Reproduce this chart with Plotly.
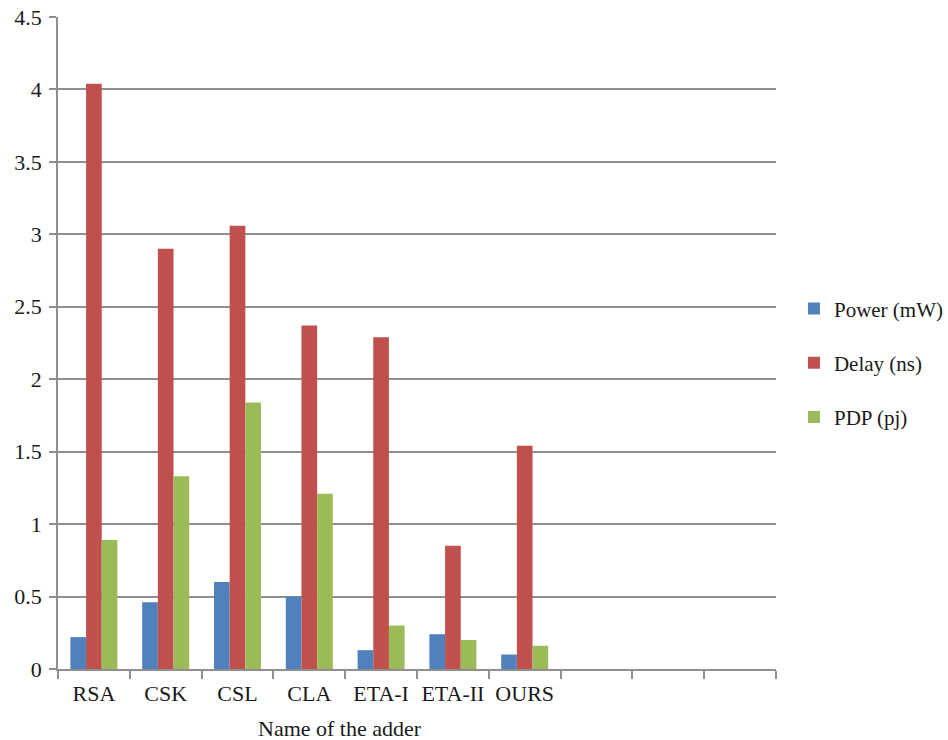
import plotly.graph_objects as go

categories = ["RSA", "CSK", "CSL", "CLA", "ETA-I", "ETA-II", "OURS"]
blank_categories = [" ", "  ", "   "]
power_mw = [0.22, 0.46, 0.60, 0.50, 0.13, 0.24, 0.10]
delay_ns = [4.04, 2.90, 3.06, 2.37, 2.29, 0.85, 1.54]
pdp_pj = [0.89, 1.33, 1.84, 1.21, 0.30, 0.20, 0.16]
series_names = ["Power (mW)", "Delay (ns)", "PDP (pj)"]
y_ticks = [0, 0.5, 1, 1.5, 2, 2.5, 3, 3.5, 4, 4.5]
y_tick_text = ["0", "0.5", "1", "1.5", "2", "2.5", "3", "3.5", "4", "4.5"]

colors = ["#4F81BD", "#C0504D", "#9BBB59"]
FONT = "Liberation Serif, Times New Roman, DejaVu Serif, serif"
GRID = "#8f8f8f"
TXT = "#1a1a1a"

fig = go.Figure()
for i, (name, vals) in enumerate(zip(series_names, [power_mw, delay_ns, pdp_pj])):
    fig.add_trace(go.Bar(
        x=categories, y=vals, name=name,
        marker=dict(color=colors[i], line=dict(width=0)),
        legendgroup=f"g{i}",
    ))

fig.update_layout(
    width=948, height=740,
    paper_bgcolor="white", plot_bgcolor="white",
    barmode="group", bargap=0.345, bargroupgap=0,
    margin=dict(l=58, r=172, t=17, b=71, autoexpand=False),
    font=dict(family=FONT, size=21, color=TXT),
    legend=dict(
        x=1.025, y=0.584, xanchor="left", yanchor="top",
        font=dict(family=FONT, size=21, color=TXT),
        tracegroupgap=24, itemwidth=30,
        bgcolor="rgba(0,0,0,0)",
    ),
    showlegend=True,
)
fig.update_xaxes(
    type="category", automargin=False,
    categoryorder="array", categoryarray=categories + blank_categories,
    range=[-0.5, 9.5], tickangle=0,
    tickson="boundaries", ticks="outside", ticklen=8, tickcolor=GRID, tickwidth=1.5,
    ticklabelstandoff=4,
    showline=True, linecolor=GRID, linewidth=1.5,
    showgrid=False, zeroline=False,
    tickfont=dict(family=FONT, size=22, color=TXT),
)
fig.update_yaxes(
    automargin=False,
    range=[0, 4.5], tickvals=y_ticks, ticktext=y_tick_text,
    ticks="outside", ticklen=7, tickcolor=GRID, tickwidth=1.5,
    ticklabelstandoff=3,
    showline=True, linecolor=GRID, linewidth=1.5,
    showgrid=True, gridcolor=GRID, gridwidth=1.5,
    zeroline=False,
    tickfont=dict(family=FONT, size=22, color=TXT),
)
fig.add_annotation(
    text="Name of the adder", xref="paper", yref="paper",
    x=0.393, y=-0.091, xanchor="center", yanchor="middle",
    showarrow=False, font=dict(family=FONT, size=22, color=TXT),
)

fig.write_html(
    "out.html",
    config={"displayModeBar": False},
    post_script="document.body.style.margin='0';",
)
